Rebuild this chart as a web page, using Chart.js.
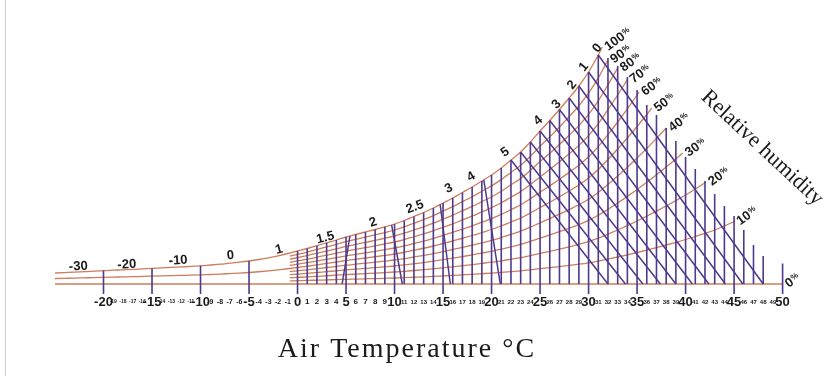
<!DOCTYPE html>
<html>
<head>
<meta charset="utf-8">
<script src="https://cdn.jsdelivr.net/npm/chart.js@4.4.1/dist/chart.umd.min.js"></script>
<style>
  html, body { margin: 0; padding: 0; background: #fff; }
  #wrap { width: 832px; height: 376px; }
</style>
</head>
<body>
<div id="wrap"><canvas id="graph" width="832" height="376"></canvas></div>
<script>
// height of the 100% curve above the 0% line, one value per degree (-25 .. 45)
const satTemps = [];
for (let t = -25; t <= 45; t++) satTemps.push(t);
const satHeights = [
  11, 11.4, 11.8, 12.3, 12.8,      // -25..-21
  13.4, 13.8, 14.2, 14.6, 15.1,    // -20..-16
  15.6, 16.1, 16.6, 17.1, 17.6,    // -15..-11
  18.2, 19, 19.8, 20.8, 21.8,      // -10..-6
  23, 24.5, 26.2, 28.2, 30.5,      // -5..-1
  33, 35.5, 38.3, 41.2, 44,        // 0..4
  47, 49.5, 52, 54.5, 57.2,        // 5..9
  60, 63.5, 67.5, 71.5, 76,        // 10..14
  81, 86, 91.5, 97, 103,           // 15..19
  109, 116, 124, 132, 142,         // 20..24
  153, 163.5, 174.5, 186, 198,     // 25..29
  212, 229, 249, 270, 292,         // 30..34
  315, 339, 364, 390, 417,         // 35..39
  445, 475, 506, 540, 580,         // 40..44
  625                              // 45
];

// relative humidity curves
const rhLevels = [0, 10, 20, 30, 40, 50, 60, 70, 80, 90, 100];
const rhStart  = [-25, -0.8, -0.8, -0.8, -0.8, -25, -0.8, -0.8, -0.8, -0.8, -25];
const rhEnd    = [50, 45, 42.1, 39.7, 38, 36.5, 35.2, 34, 33, 32, 31.4];

// temperature lines right of 31 degrees stop at the outer edge
const edgeTemps = [32, 33, 34, 35, 36, 37, 38, 39, 40, 41, 42, 43, 44, 45, 46, 47, 48, 50];
const edgeTops  = [226, 218, 207, 194, 179, 169, 156, 143, 127, 115, 103, 90, 78, 68, 54, 39, 28, 20.5];

let verticalTemps = [-20, -15, -10, -5];
for (let t = 0; t <= 48; t++) verticalTemps.push(t);
verticalTemps.push(50);

// slanted lines: start on the 100% curve, end on the 0% line
const steepTop    = [5.4, 9.7, 14.7, 19.2];
const steepBottom = [4.6, 10.8, 15.75, 20.9];
const slantTop    = [22, 23, 24, 25, 26, 27, 28, 29, 30, 31];
const slantBottom = [32.0, 33.8, 35.6, 37.4, 39.0, 40.7, 42.4, 44.1, 45.9, 48.0];

// labels along the 100% curve
const curveLabels     = ['-30', '-20', '-10', '0', '1', '1.5', '2', '2.5', '3', '4', '5', '4', '3', '2', '1', '0'];
const curveLabelTemps = [-22.6, -17.6, -12.3, -6.9, -1.9, 2.86, 7.8, 12.1, 15.6, 17.9, 21.4, 24.8, 26.7, 28.3, 29.5, 30.9];

const purple = '#4d3a8e';
const orange = '#cd7d5c';

function satAt(t){
  let i = Math.floor(t) - satTemps[0];
  if(i < 0) i = 0;
  if(i > satTemps.length - 2) i = satTemps.length - 2;
  const f = t - satTemps[i];
  return satHeights[i] + (satHeights[i+1] - satHeights[i]) * f;
}

function rhCurve(k){
  const rh = rhLevels[k] / 100;
  const pts = [{x: rhStart[k], y: rh * satAt(rhStart[k])}];
  for(let t = Math.floor(rhStart[k]) + 1; t < rhEnd[k]; t++){
    pts.push({x: t, y: rh * satAt(t)});
  }
  pts.push({x: rhEnd[k], y: rh * satAt(rhEnd[k])});
  return pts;
}

function segments(list){
  const pts = [];
  list.forEach(function(s){
    pts.push({x: s[0], y: s[1]}, {x: s[2], y: s[3]}, {x: s[2], y: null});
  });
  return pts;
}

function tickText(v){
  if(v < -20 || v > 50) return '';
  return String(v);
}

// same line height for every tick so small and big labels share one centre line
function tickFont(v){
  const fam = '"Liberation Sans", Arial, sans-serif';
  let size = 6;
  if(v % 5 === 0) size = 13;
  else if(v > 0 && v < 10) size = 8;
  else if(v > -10 && v < 0) size = 7;
  else if(v < -10) size = 5;
  return {family: fam, size: size, weight: 'bold', lineHeight: '16px'};
}

const verticals = verticalTemps.map(function(t){
  const top = t <= 31 ? satAt(t) : edgeTops[edgeTemps.indexOf(t)];
  const bottom = t % 5 === 0 ? -10 : 0;
  return [t, bottom, t, top];
});
const diagonals = [];
steepTop.forEach(function(t, i){ diagonals.push([t, satAt(t), steepBottom[i], 0]); });
slantTop.forEach(function(t, i){ diagonals.push([t, satAt(t), slantBottom[i], 0]); });

const datasets = [
  {data: segments(verticals), borderColor: purple, borderWidth: 1.6, showLine: true, spanGaps: false},
  {data: segments(diagonals), borderColor: purple, borderWidth: 1.5, showLine: true, spanGaps: false}
];
rhLevels.forEach(function(rh, k){
  datasets.push({data: rhCurve(k), borderColor: orange, borderWidth: 1.3, showLine: true,
                 cubicInterpolationMode: 'monotone'});
});

const textPlugin = {
  id: 'chartText',
  afterDraw: function(chart){
    const c = chart.ctx;
    const xs = chart.scales.x, ys = chart.scales.y;
    c.save();

    // frame line on the left
    c.strokeStyle = '#cfcfcf';
    c.lineWidth = 1;
    c.beginPath(); c.moveTo(5.5, 0); c.lineTo(5.5, 376); c.stroke();

    c.fillStyle = '#1b1b1b';
    c.font = 'bold 13px "Liberation Sans", Arial, sans-serif';
    c.textAlign = 'center';
    c.textBaseline = 'middle';
    const lift  = [5.5, 5, 6.5, 7.5, 6, 5.4, 7.4, 9, 11.6, 10.6, 12.5, 12.5, 8.5, 9.4, 12, 8.5];
    const angle = [-3, -3, -4, -6, -15, -14, -18, -20, -25, -30, -35, -40, -45, -50, -50, -50];
    curveLabels.forEach(function(txt, i){
      const t = curveLabelTemps[i];
      const px = xs.getPixelForValue(t);
      const py = ys.getPixelForValue(satAt(t)) - lift[i];
      c.save(); c.translate(px, py); c.rotate(angle[i] * Math.PI / 180);
      c.fillText(txt, 0, 0);
      c.restore();
    });

    // humidity labels at the end of each curve
    c.textAlign = 'left';
    rhLevels.forEach(function(rh, k){
      const px = xs.getPixelForValue(rhEnd[k]);
      const py = ys.getPixelForValue(rh / 100 * satAt(rhEnd[k]));
      c.save(); c.translate(px + 4, py + 1); c.rotate(-36 * Math.PI / 180);
      c.font = 'bold 13px "Liberation Sans", Arial, sans-serif';
      c.fillText(String(rh), 0, 0);
      const w = c.measureText(String(rh)).width;
      c.font = 'bold 8px "Liberation Sans", Arial, sans-serif';
      c.fillText('%', w + 0.5, -2);
      c.restore();
    });

    c.font = '22px "Liberation Serif", "Times New Roman", serif';
    c.textAlign = 'center';
    c.save(); c.translate(762, 148); c.rotate(43 * Math.PI / 180);
    c.fillText('Relative humidity', 0, 0);
    c.restore();

    c.font = '28px "Liberation Serif", "Times New Roman", serif';
    c.letterSpacing = '2px';
    c.textBaseline = 'alphabetic';
    c.fillText('Air Temperature °C', 407, 357);
    c.restore();
  }
};

const ctx = document.getElementById('graph');
const chart = new Chart(ctx, {
  type: 'scatter',
  data: {datasets: datasets},
  options: {
    responsive: false,
    animation: false,
    devicePixelRatio: 1,
    events: [],
    layout: {padding: {left: 55, right: 30, top: 30, bottom: 0}},
    elements: {point: {radius: 0, hoverRadius: 0, hitRadius: 0}},
    plugins: {legend: {display: false}, tooltip: {enabled: false}},
    scales: {
      x: {
        type: 'linear', min: -25, max: 52,
        grid: {display: false},
        border: {display: false},
        ticks: {
          stepSize: 1, autoSkip: false, maxRotation: 0, minRotation: 0,
          crossAlign: 'near', padding: -8, color: '#1b1b1b',
          callback: function(v){ return tickText(v); },
          font: function(c){ return tickFont(c.tick ? c.tick.value : 0); }
        },
        afterFit: function(s){ s.height = 82; }
      },
      y: {display: false, min: -10, max: 254}
    }
  },
  plugins: [textPlugin]
});
</script>
</body>
</html>
